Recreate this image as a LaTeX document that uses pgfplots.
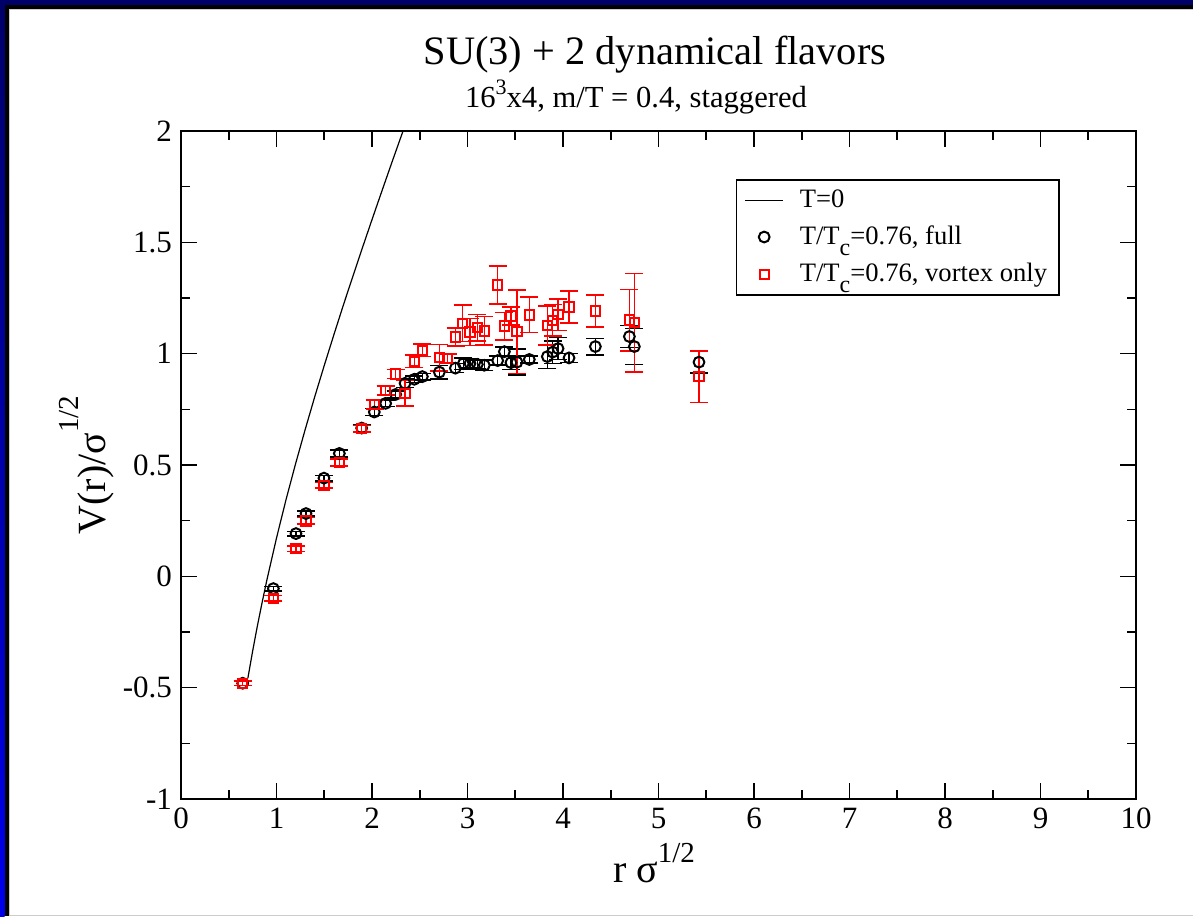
\documentclass[border=0pt]{standalone}
\usepackage{fontspec}
\setmainfont{Liberation Serif}
\usepackage{pgfplots}
\usepackage{pgfplotstable}
\pgfplotsset{compat=1.18}
\definecolor{navyb}{RGB}{0,0,105}
\definecolor{blueb}{RGB}{0,0,235}
\newcommand{\supx}[2]{\raisebox{#1}{\fontsize{#2}{#2}\selectfont 1/2}}
\newcommand{\subc}{\raisebox{-0.4em}{\fontsize{12}{12}\selectfont c}}
\pgfplotsset{
  linelegend/.style={legend image code/.code={\draw[##1] (0pt,0pt) -- (19pt,0pt);}},
  marklegend/.style={legend image code/.code={\draw[mark repeat=2,mark phase=2,##1] plot coordinates {(0pt,0pt) (9.5pt,0pt) (19pt,0pt)};}},
}

\pgfplotstableread{
x y
0.70 -0.458
0.75 -0.336
0.80 -0.222
0.85 -0.116
0.90 -0.015
1.00 0.172
1.10 0.345
1.20 0.506
1.30 0.659
1.40 0.806
1.50 0.947
1.60 1.084
1.70 1.218
1.80 1.348
1.90 1.476
2.00 1.602
2.10 1.726
2.20 1.849
2.30 1.970
2.34 2.018
}\tzero

\pgfplotstableread{
x y e
0.646 -0.480 0.010
0.967 -0.055 0.010
1.204 0.192 0.010
1.309 0.282 0.012
1.497 0.441 0.012
1.658 0.552 0.015
1.892 0.666 0.015
2.024 0.738 0.015
2.143 0.777 0.015
2.248 0.817 0.015
2.346 0.867 0.020
2.443 0.885 0.015
2.527 0.897 0.015
2.705 0.917 0.030
2.873 0.935 0.020
2.956 0.955 0.025
3.026 0.956 0.020
3.103 0.952 0.020
3.176 0.948 0.024
3.316 0.969 0.020
3.386 1.009 0.020
3.455 0.960 0.030
3.518 0.962 0.058
3.647 0.974 0.016
3.836 0.987 0.054
3.892 1.007 0.050
3.948 1.023 0.050
4.063 0.981 0.020
4.339 1.032 0.037
4.695 1.077 0.050
4.747 1.032 0.081
5.424 0.962 0.049
}\full

\pgfplotstableread{
x y e
0.646 -0.480 0.010
0.967 -0.099 0.012
1.204 0.124 0.012
1.309 0.249 0.015
1.497 0.409 0.012
1.658 0.511 0.015
1.892 0.663 0.015
2.028 0.772 0.020
2.143 0.834 0.020
2.248 0.909 0.020
2.346 0.822 0.058
2.443 0.966 0.027
2.527 1.016 0.028
2.705 0.982 0.060
2.792 0.979 0.020
2.876 1.075 0.040
2.949 1.136 0.082
3.026 1.097 0.060
3.103 1.117 0.060
3.176 1.102 0.064
3.316 1.308 0.085
3.386 1.124 0.062
3.455 1.169 0.040
3.518 1.099 0.187
3.647 1.174 0.080
3.836 1.127 0.088
3.892 1.150 0.070
3.948 1.175 0.070
4.063 1.210 0.072
4.339 1.192 0.072
4.695 1.151 0.138
4.747 1.139 0.222
5.424 0.897 0.116
}\vortex

\begin{document}
\begin{tikzpicture}[x=0.5pt,y=-0.5pt]
\useasboundingbox (0,0) rectangle (1193,916);
\fill[white] (0,0) rectangle (1193,916);
\shade[top color=navyb,bottom color=blueb] (0,0) rectangle (4.5,916);
\fill[navyb] (0,0) rectangle (1193,4.5);
\fill[black] (4.5,4.5) rectangle (1193,9);
\fill[black] (4.5,4.5) rectangle (9,916);
\draw[black!20, line width=0.5pt] (9,9.5) -- (1193,9.5);
\draw[black!20, line width=0.5pt] (9.5,9) -- (9.5,916);
\draw[black!20, line width=0.5pt] (9,915.5) -- (1193,915.5);

\node[font=\fontsize{20.2}{24}\selectfont] at (655,55) {SU(3) + 2 dynamical flavors};
\node[font=\fontsize{15.3}{18}\selectfont] at (636,97) {16\raisebox{0.45em}{\fontsize{11}{11}\selectfont 3}x4, m/T = 0.4, staggered};
\node[font=\fontsize{20}{24}\selectfont, rotate=90, anchor=base] at (105,465) {V(r)/σ\supx{0.66em}{14.5}};
\node[font=\fontsize{20}{24}\selectfont, anchor=base] at (654,882) {r σ\supx{0.5em}{14.5}};

\begin{axis}[
  at={(90.5pt,-399.5pt)}, anchor=south west,
  scale only axis, width=477.5pt, height=334pt,
  xmin=0, xmax=10, ymin=-1, ymax=2,
  xtick={0,1,...,10}, ytick={-1,-0.5,...,2},
  minor x tick num=1, minor y tick num=1,
  tick align=inside, major tick length=8pt, minor tick length=4.5pt,
  axis line style={line width=1pt},
  every tick/.style={black, line width=0.8pt},
  tick label style={font=\fontsize{15.5}{18}\selectfont},
  /pgf/number format/assume math mode=true,
  xticklabel style={yshift=-1pt},
  yticklabel style={xshift=-1pt},
  legend cell align=left,
  legend style={at={(0.581,0.928)}, anchor=north west, draw=black, line width=0.75pt,
    font=\fontsize{13.3}{16}\selectfont, row sep=3.8pt, column sep=6pt,
    inner xsep=4pt, inner ysep=3pt},
]
\addplot[black, line width=0.6pt, no marks, linelegend] table[x=x,y=y] {\tzero};
\addlegendentry{T=0}
\addplot[black, only marks, mark=o, mark size=2.7pt, mark options={line width=1pt},
  marklegend,
  error bars/.cd, y dir=both, y explicit,
  error bar style={line width=0.75pt},
  error mark options={rotate=90, mark size=4.5pt, line width=0.75pt}]
  table[x=x,y=y,y error=e] {\full};
\addlegendentry{T/T\subc=0.76, full}
\addplot[red, only marks, mark=square, mark size=2.3pt, mark options={line width=1pt},
  marklegend,
  error bars/.cd, y dir=both, y explicit,
  error bar style={line width=0.75pt},
  error mark options={rotate=90, mark size=4.5pt, line width=0.75pt}]
  table[x=x,y=y,y error=e] {\vortex};
\addlegendentry{T/T\subc=0.76, vortex only}
\end{axis}
\end{tikzpicture}
\end{document}
